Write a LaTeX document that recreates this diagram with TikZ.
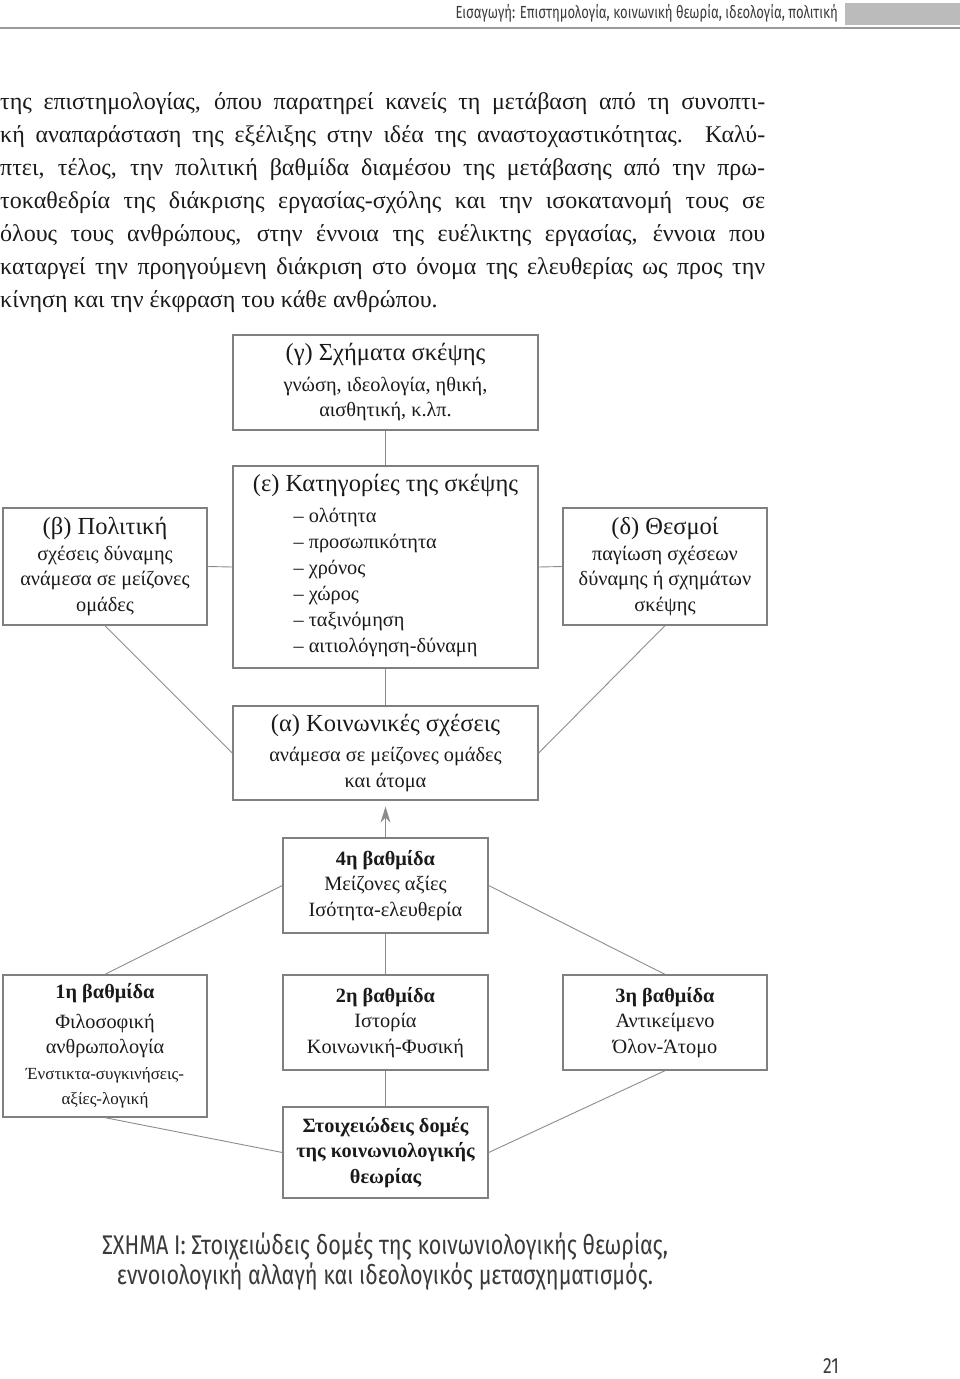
\documentclass[tikz,border=0pt]{standalone}
\usepackage{fontspec}
\setmainfont{Liberation Serif}
\newfontfamily\capfont[FakeStretch=0.8]{Fira Sans}
\newfontfamily\hdrfont[FakeStretch=0.75]{Fira Sans}
\usetikzlibrary{arrows.meta}
\definecolor{boxgray}{HTML}{808080}
\definecolor{linegray}{HTML}{8C8C8C}
\definecolor{txt}{HTML}{1A1A1A}
\definecolor{capgray}{HTML}{3A3A3A}
\definecolor{hdrbox}{HTML}{BBBBBB}
\definecolor{rulegray}{HTML}{9A9A9A}
\newcommand\bodyf{\fontsize{20.3}{25.5}\selectfont}
\newcommand\ttlf{\fontsize{24.5}{28}\selectfont}
\newcommand\smallf{\fontsize{17}{22}\selectfont}
\tikzset{
  box/.style={draw=boxgray, line width=1.3pt, inner sep=2pt, align=center, text=txt, font=\bodyf},
  conn/.style={draw=linegray, line width=0.9pt},
  bodyline/.style={anchor=base west, inner sep=0pt, text=txt, font=\fontsize{24}{28}\selectfont},
  captext/.style={inner sep=0pt, text=capgray, font=\capfont\fontsize{27}{32}\selectfont},
}
\begin{document}
\begin{tikzpicture}[x=1pt,y=-1pt]
\useasboundingbox (0,0) rectangle (960,1379);
% header
\fill[hdrbox] (845,3) rectangle (960,25);
\draw[rulegray, line width=2.5pt] (0,28) -- (960,28);
\node[inner sep=0pt, anchor=east, text=capgray, font=\hdrfont\fontsize{17.5}{20}\selectfont] (hdr) at (838,13) {Εισαγωγή: Επιστημολογία, κοινωνική θεωρία, ιδεολογία, πολιτική};
% paragraph
\node[bodyline] (p1) at (0,109) {\makebox[765pt][s]{της επιστημολογίας, όπου παρατηρεί κανείς τη μετάβαση από τη συνοπτι-}};
\node[bodyline] (p2) at (0,142) {\makebox[765pt][s]{κή αναπαράσταση της εξέλιξης στην ιδέα της αναστοχαστικότητας. Καλύ-}};
\node[bodyline] (p3) at (0,175) {\makebox[765pt][s]{πτει, τέλος, την πολιτική βαθμίδα διαμέσου της μετάβασης από την πρω-}};
\node[bodyline] (p4) at (0,208) {\makebox[765pt][s]{τοκαθεδρία της διάκρισης εργασίας-σχόλης και την ισοκατανομή τους σε}};
\node[bodyline] (p5) at (0,241) {\makebox[765pt][s]{όλους τους ανθρώπους, στην έννοια της ευέλικτης εργασίας, έννοια που}};
\node[bodyline] (p6) at (0,274) {\makebox[765pt][s]{καταργεί την προηγούμενη διάκριση στο όνομα της ελευθερίας ως προς την}};
\node[bodyline] (p7) at (0,307) {κίνηση και την έκφραση του κάθε ανθρώπου.};
% boxes
\node[box, minimum width=305pt, minimum height=95pt] (g) at (385.5,382.5)
  {{\ttlf (γ) Σχήματα σκέψης}\\[5pt] γνώση, ιδεολογία, ηθική,\\ αισθητική, κ.λπ.};
\node[box, minimum width=305pt, minimum height=202pt] (e) at (385.5,567)
  {{\ttlf (ε) Κατηγορίες της σκέψης}\\[7pt]
   \def\arraystretch{1.015}\begin{tabular}{@{}l@{}}– ολότητα\\ – προσωπικότητα\\ – χρόνος\\ – χώρος\\ – ταξινόμηση\\ – αιτιολόγηση-δύναμη\end{tabular}};
\node[box, minimum width=204pt, minimum height=117pt] (b) at (105,566.5)
  {{\ttlf (β) Πολιτική}\\ σχέσεις δύναμης\\ ανάμεσα σε μείζονες\\ ομάδες};
\node[box, minimum width=204pt, minimum height=117pt] (d) at (665,566.5)
  {{\ttlf (δ) Θεσμοί}\\ παγίωση σχέσεων\\ δύναμης ή σχημάτων\\ σκέψης};
\node[box, minimum width=305pt, minimum height=94pt] (a) at (385.5,753)
  {{\ttlf (α) Κοινωνικές σχέσεις}\\[5pt] ανάμεσα σε μείζονες ομάδες\\ και άτομα};
\node[box, minimum width=205pt, minimum height=95pt] (v4) at (385.5,885.5)
  {\textbf{4η βαθμίδα}\\ Μείζονες αξίες\\ Ισότητα-ελευθερία};
\node[box, minimum width=204pt, minimum height=142pt] (v1) at (105,1046)
  {\textbf{1η βαθμίδα}\\[4pt] Φιλοσοφική\\ ανθρωπολογία\\ {\smallf Ένστικτα-συγκινήσεις-}\\ {\smallf αξίες-λογική}};
\node[box, minimum width=205pt, minimum height=95pt] (v2) at (385.5,1022.5)
  {\textbf{2η βαθμίδα}\\ Ιστορία\\ Κοινωνική-Φυσική};
\node[box, minimum width=204pt, minimum height=95pt] (v3) at (665,1022.5)
  {\textbf{3η βαθμίδα}\\ Αντικείμενο\\ Όλον-Άτομο};
\node[box, minimum width=205pt, minimum height=91pt, font=\bodyf\bfseries] (s) at (385.5,1152.5)
  {Στοιχειώδεις δομές\\ της κοινωνιολογικής\\ θεωρίας};
% connectors
\draw[conn] (g.south) -- (e.north);
\draw[conn] (b.east) -- (e.west);
\draw[conn] (e.east) -- (d.west);
\draw[conn] (b.south) -- (a.west);
\draw[conn] (d.south) -- (a.east);
\draw[conn] (e.south) -- (a.north);
\draw[conn, -{Stealth[length=16pt,width=10pt,fill=linegray]}, shorten >=6pt] (v4.north) -- (a.south);
\draw[conn] (v4.west) -- (v1.north);
\draw[conn] (v4.east) -- (v3.north);
\draw[conn] (v4.south) -- (v2.north);
\draw[conn] (v2.south) -- (s.north);
\draw[conn] (v1.south) -- (s.west);
\draw[conn] (v3.south) -- (s.east);
% caption
\node[captext] (c1) at (385,1247) {ΣΧΗΜΑ Ι: Στοιχειώδεις δομές της κοινωνιολογικής θεωρίας,};
\node[captext] (c2) at (385,1277) {εννοιολογική αλλαγή και ιδεολογικός μετασχηματισμός.};
\node[inner sep=0pt, text=capgray, font=\capfont\fontsize{22}{26}\selectfont] (pn) at (831,1366) {21};
\end{tikzpicture}
\end{document}
